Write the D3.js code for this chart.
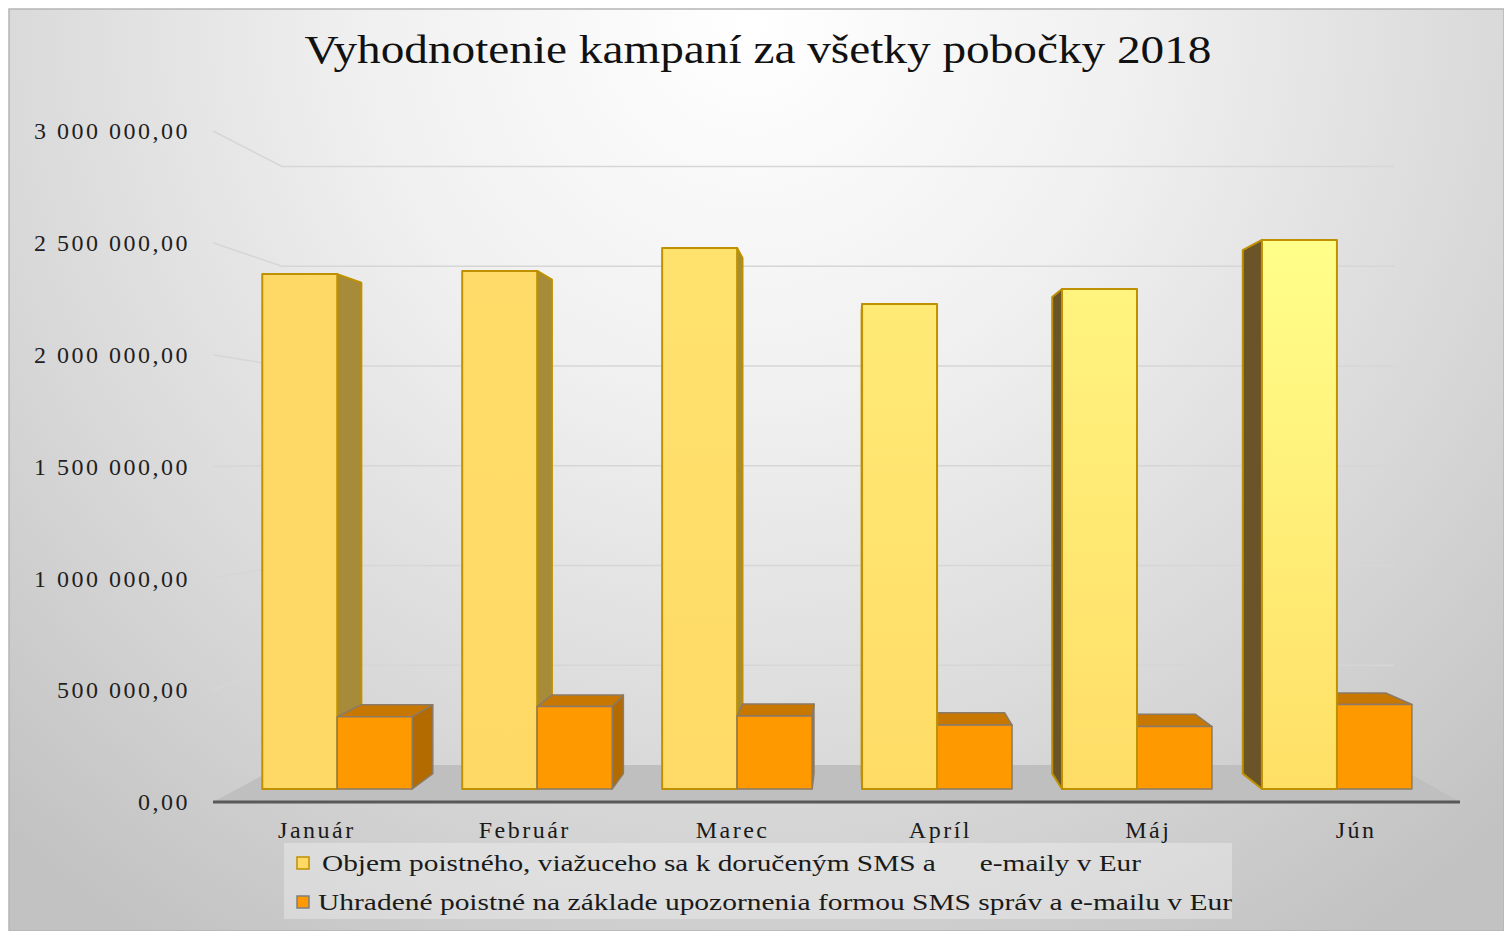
<!DOCTYPE html>
<html lang="sk">
<head>
<meta charset="UTF-8">
<title>Vyhodnotenie kampaní za všetky pobočky 2018</title>
<script src="https://d3js.org/d3.v7.min.js"></script>
<style>
  body { margin: 0; background: #fff; }
  svg text { font-family: "Liberation Serif", "Times New Roman", serif; }
</style>
</head>
<body>
<div id="chart"></div>
<script>
// data
const months = ['Január', 'Február', 'Marec', 'Apríl', 'Máj', 'Jún'];
const objem = [2393000, 2408000, 2514000, 2254000, 2324000, 2552000];
const uhradene = [336000, 383000, 339000, 297000, 290000, 393000];
const seriesNames = [
  'Objem poistného, viažuceho sa k doručeným SMS a      e-maily v Eur',
  'Uhradené poistné na základe upozornenia formou SMS správ a e-mailu v Eur'
];
const tickValues = [0, 500000, 1000000, 1500000, 2000000, 2500000, 3000000];
const title = 'Vyhodnotenie kampaní za všetky pobočky 2018';

const W = 1504, H = 931;
const svg = d3.select('#chart').append('svg')
  .attr('width', W).attr('height', H);
const defs = svg.append('defs');

// background
const bg = defs.append('radialGradient').attr('id', 'bg')
  .attr('gradientUnits', 'userSpaceOnUse')
  .attr('cx', 750).attr('cy', 20).attr('r', 1100);
bg.append('stop').attr('offset', 0).attr('stop-color', '#ffffff');
bg.append('stop').attr('offset', 0.35).attr('stop-color', '#f0f0f0');
bg.append('stop').attr('offset', 0.7).attr('stop-color', '#d8d8d8');
bg.append('stop').attr('offset', 1).attr('stop-color', '#c2c2c2');

svg.append('rect').attr('x', 9).attr('y', 9).attr('width', W - 9).attr('height', H - 9)
  .attr('fill', 'url(#bg)').attr('stroke', '#b5b5b5').attr('stroke-width', 1.5);

// front plane scales, perspective toward a vanishing point
const x = d3.scaleBand().domain(months).range([213, 1460])
  .paddingInner(0.25).paddingOuter(0.125);
const xs = d3.scaleBand().domain([0, 1]).range([0, x.bandwidth()]);
const y = d3.scaleLinear().domain([0, 3000000]).range([802, 131]);

const VP = { x: 852, y: 460 };
const sWall = 0.892, sFront = 0.962, sBack = 0.917;
const proj = (X, Y, s) => [VP.x + (X - VP.x) * s, VP.y + (Y - VP.y) * s];
const poly = pts => 'M' + pts.map(p => p.join(',')).join('L') + 'Z';

const [x0, x1] = x.range();

// gridlines: left wall + back wall
const grid = svg.append('g');
tickValues.filter(v => v > 0).forEach(v => {
  const a = proj(x0, y(v), 1), b = proj(x0, y(v), sWall), c = proj(x1, y(v), sWall);
  grid.append('path')
    .attr('d', `M${a}L${b}L${c}`)
    .attr('fill', 'none').attr('stroke', '#d6d6d6').attr('stroke-width', 1.5);
});

// floor
svg.append('path')
  .attr('d', poly([proj(x0, y(0), 1), proj(x1, y(0), 1), proj(x1, y(0), sWall), proj(x0, y(0), sWall)]))
  .attr('fill', '#bfbfbf');
svg.append('line')
  .attr('x1', x0).attr('x2', x1).attr('y1', y(0)).attr('y2', y(0))
  .attr('stroke', '#595959').attr('stroke-width', 3);

// bar styles
const topYellow = d3.interpolateRgb('#ffd966', '#ffff8a');
const botYellow = d3.interpolateRgb('#ffd966', '#ffdf66');
months.forEach((m, i) => {
  const t = Math.pow(i / (months.length - 1), 1.6);
  const g = defs.append('linearGradient').attr('id', 'yg' + i)
    .attr('x1', 0).attr('y1', 0).attr('x2', 0).attr('y2', 1);
  g.append('stop').attr('offset', 0).attr('stop-color', topYellow(t));
  g.append('stop').attr('offset', 1).attr('stop-color', botYellow(t));
});

const bars = [];
months.forEach((m, i) => {
  [objem, uhradene].forEach((arr, k) => {
    const X0 = x(m) + xs(k), X1 = X0 + xs.bandwidth();
    bars.push({ i, k, X0, X1, Y0: y(0), Y1: y(arr[i]) });
  });
});
bars.sort((a, b) => Math.abs((b.X0 + b.X1) / 2 - VP.x) - Math.abs((a.X0 + a.X1) / 2 - VP.x));

const barG = svg.append('g');
bars.forEach(d => {
  const g = barG.append('g');
  const yellow = d.k === 0;
  const stroke = yellow ? '#bf9000' : '#8a7a66';
  const sw = yellow ? 2 : 1.5;
  const face = (pts, fill) => g.append('path').attr('d', poly(pts))
    .attr('fill', fill).attr('stroke', stroke).attr('stroke-width', sw)
    .attr('stroke-linejoin', 'round');

  if (d.X1 < VP.x) {
    face([proj(d.X1, d.Y1, sFront), proj(d.X1, d.Y1, sBack), proj(d.X1, d.Y0, sBack), proj(d.X1, d.Y0, sFront)],
      yellow ? '#a68b3b' : '#b36b00');
  }
  if (d.X0 > VP.x) {
    face([proj(d.X0, d.Y1, sFront), proj(d.X0, d.Y1, sBack), proj(d.X0, d.Y0, sBack), proj(d.X0, d.Y0, sFront)],
      yellow ? '#6b5528' : '#a86200');
  }
  if (d.Y1 > VP.y) {
    face([proj(d.X0, d.Y1, sFront), proj(d.X1, d.Y1, sFront), proj(d.X1, d.Y1, sBack), proj(d.X0, d.Y1, sBack)],
      yellow ? '#d9b84a' : '#c87800');
  }
  face([proj(d.X0, d.Y1, sFront), proj(d.X1, d.Y1, sFront), proj(d.X1, d.Y0, sFront), proj(d.X0, d.Y0, sFront)],
    yellow ? `url(#yg${d.i})` : '#ff9900');
});

// value axis
const loc = d3.formatLocale({ decimal: ',', thousands: ' ', grouping: [3], currency: ['', ''] });
const fmt = loc.format(',.2f');
const yAxis = svg.append('g').attr('transform', `translate(${x0},0)`)
  .call(d3.axisLeft(y).tickValues(tickValues).tickFormat(fmt).tickSize(0).tickPadding(23));
yAxis.select('.domain').remove();
yAxis.selectAll('text')
  .attr('font-family', '"Liberation Serif", serif')
  .attr('font-size', 24).attr('letter-spacing', '2.5px')
  .attr('fill', '#1f1f1f');

// category axis
const xAxis = svg.append('g').attr('transform', `translate(0,${y(0)})`)
  .call(d3.axisBottom(x).tickSize(0));
xAxis.select('.domain').remove();
xAxis.selectAll('text')
  .attr('y', 36).attr('dy', 0)
  .attr('font-family', '"Liberation Serif", serif')
  .attr('font-size', 24).attr('letter-spacing', '2.5px')
  .attr('fill', '#1a1a1a');

// title
svg.append('text')
  .attr('x', 758).attr('y', 63).attr('text-anchor', 'middle')
  .attr('font-size', 41).attr('fill', '#111')
  .attr('textLength', 907).attr('lengthAdjust', 'spacingAndGlyphs')
  .text(title);

// legend
const lg = svg.append('g');
lg.append('rect').attr('x', 284).attr('y', 843).attr('width', 948).attr('height', 76)
  .attr('fill', '#ffffff').attr('fill-opacity', 0.3);
const legendItems = [
  { name: seriesNames[0], fill: '#ffd966', stroke: '#bf9000', y: 871, tx: 322, len: 819 },
  { name: seriesNames[1], fill: '#ff9900', stroke: '#7f7f7f', y: 910, tx: 318, len: 914 }
];
legendItems.forEach(d => {
  lg.append('rect').attr('x', 297).attr('y', d.y - 14).attr('width', 12).attr('height', 12)
    .attr('fill', d.fill).attr('stroke', d.stroke).attr('stroke-width', 1.5);
  lg.append('text').attr('x', d.tx).attr('y', d.y)
    .attr('font-size', 24).attr('fill', '#1a1a1a')
    .style('white-space', 'pre')
    .attr('textLength', d.len).attr('lengthAdjust', 'spacingAndGlyphs')
    .text(d.name);
});
</script>
</body>
</html>
